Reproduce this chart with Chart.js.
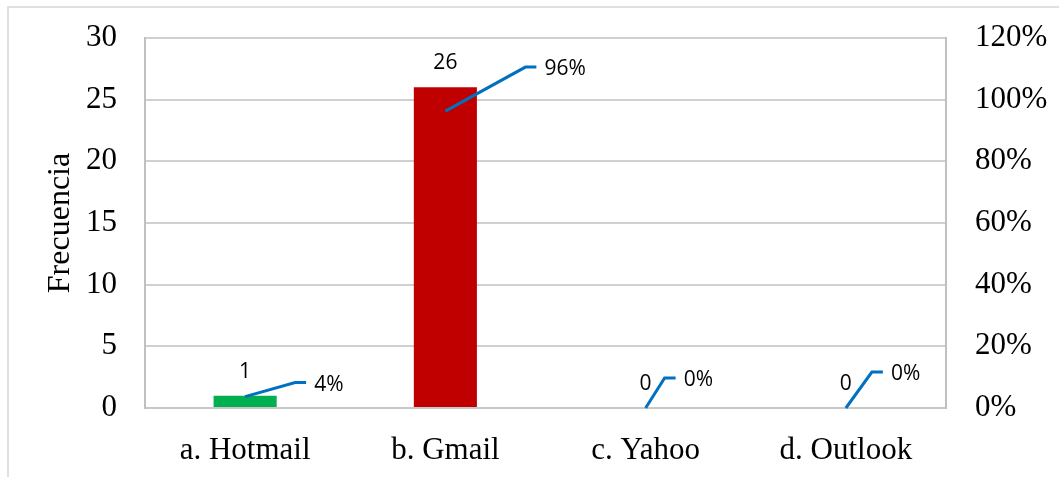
<!DOCTYPE html>
<html>
<head>
<meta charset="utf-8">
<script src="https://cdn.jsdelivr.net/npm/chart.js@4"></script>
<style>
  body { margin: 0; background: #fff; }
  #wrap { position: relative; width: 1059px; height: 477px; }
  #frame { position: absolute; left: 7px; top: 6px; right: -5px; bottom: -5px; border-left: 2px solid #e0e0e0; border-top: 2px solid #e0e0e0; }
  canvas { position: absolute; left: 0; top: 0; }
</style>
</head>
<body>
<div id="wrap">
  <div id="frame"></div>
  <canvas id="chart" width="1059" height="477"></canvas>
</div>
<script>
// datos
const categorias = ['a. Hotmail', 'b. Gmail', 'c. Yahoo', 'd. Outlook'];
const frecuencia = [1, 26, 0, 0];
const porcentaje = [3.7, 96.3, 0, 0];
const coloresBarra = ['#00b050', '#c00000', '#c00000', '#c00000'];

// desplazamiento de las etiquetas de porcentaje (codo de la linea guia)
const guias = [[50, -14], [80, -44], [19, -30], [26, -36]];

const serif = '"Times New Roman", "Liberation Serif", serif';
const sans = '"Open Sans", sans-serif';

const etiquetas = {
    id: 'etiquetas',
    afterDatasetsDraw(chart) {
        const ctx = chart.ctx;
        ctx.save();
        ctx.font = '21px ' + sans;
        ctx.fillStyle = '#000';
        // valores sobre las barras
        chart.getDatasetMeta(0).data.forEach((bar, i) => {
            ctx.textAlign = 'center';
            ctx.textBaseline = 'alphabetic';
            ctx.fillText(String(frecuencia[i]), bar.x, bar.y - 18);
        });
        // porcentajes con linea guia
        chart.getDatasetMeta(1).data.forEach((pt, i) => {
            const ex = pt.x + guias[i][0];
            const ey = pt.y + guias[i][1];
            ctx.strokeStyle = '#0070c0';
            ctx.lineWidth = 3;
            ctx.beginPath();
            ctx.moveTo(pt.x, pt.y);
            ctx.lineTo(ex, ey);
            ctx.lineTo(ex + 11, ey);
            ctx.stroke();
            ctx.textAlign = 'left';
            ctx.fillText(Math.round(porcentaje[i]) + '%', ex + 19, ey + 8);
        });
        ctx.restore();
    }
};

const sinMargen = s => { s.paddingTop = 0; s.paddingBottom = 0; };

new Chart(document.getElementById('chart'), {
    data: {
        labels: categorias,
        datasets: [
            {
                type: 'bar',
                data: frecuencia,
                backgroundColor: coloresBarra,
                barPercentage: 0.315,
                categoryPercentage: 1,
                yAxisID: 'y'
            },
            {
                type: 'line',
                data: porcentaje,
                showLine: false,
                pointRadius: 0,
                yAxisID: 'y1'
            }
        ]
    },
    options: {
        responsive: false,
        animation: false,
        layout: { padding: { top: 38 } },
        plugins: {
            legend: { display: false },
            tooltip: { enabled: false }
        },
        scales: {
            x: {
                grid: { display: false },
                border: { color: '#c8c8c8', width: 2 },
                ticks: { color: '#000', font: { family: serif, size: 31 }, padding: 16 },
                afterFit: s => { s.height = 69; }
            },
            y: {
                position: 'left',
                min: 0, max: 30,
                ticks: { stepSize: 5, color: '#000', font: { family: serif, size: 31 }, padding: 28 },
                grid: { color: '#d0d0d0', lineWidth: 2, drawTicks: false },
                border: { color: '#c0c0c0', width: 2 },
                title: { display: true, text: 'Frecuencia', color: '#000', font: { family: serif, size: 32 }, padding: { top: 41, bottom: 0 } },
                afterFit: s => { s.width = 145; sinMargen(s); }
            },
            y1: {
                position: 'right',
                min: 0, max: 120,
                ticks: { stepSize: 20, color: '#000', font: { family: serif, size: 31 }, padding: 29, callback: v => v + '%' },
                grid: { drawOnChartArea: false, drawTicks: false },
                border: { color: '#c0c0c0', width: 2 },
                afterFit: s => { s.width = 113; sinMargen(s); }
            }
        }
    },
    plugins: [etiquetas]
});
</script>
</body>
</html>
